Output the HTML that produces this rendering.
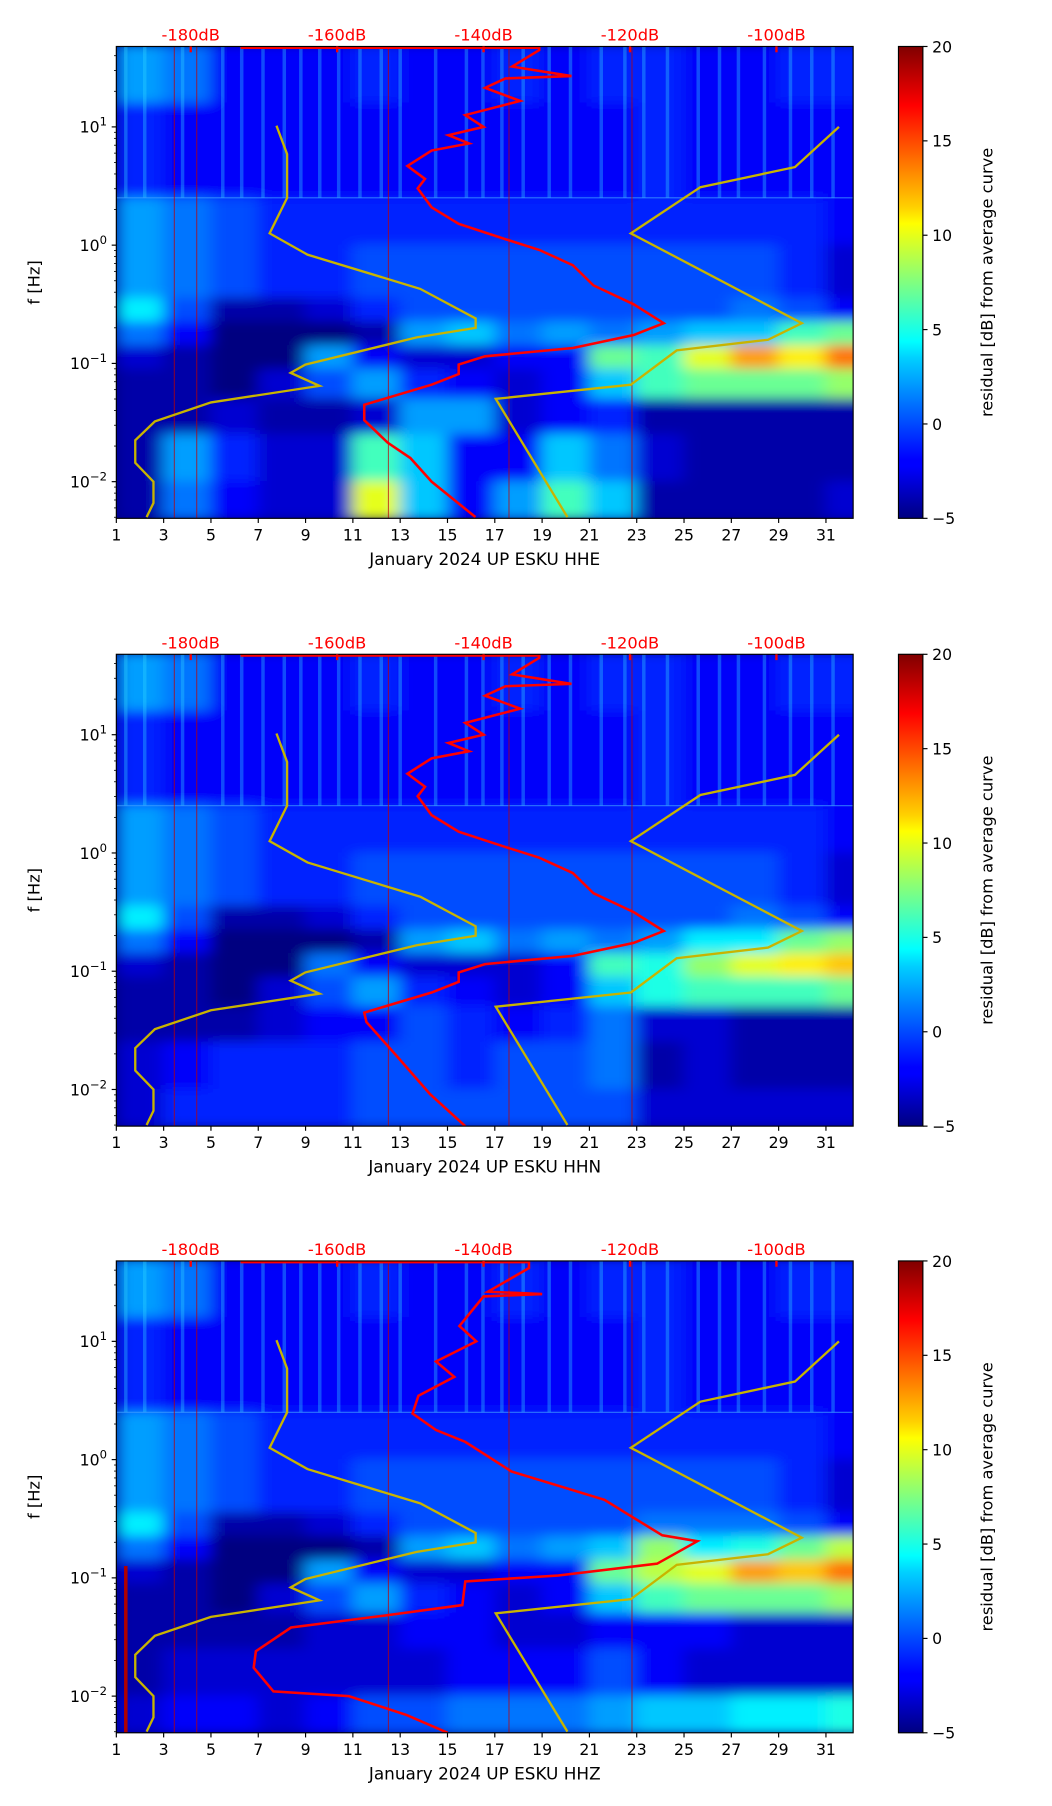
<!DOCTYPE html>
<html><head><meta charset="utf-8"><style>
html,body{margin:0;padding:0;background:#fff;}
svg{display:block;font-family:"DejaVu Sans","Liberation Sans",sans-serif;}
</style></head><body>
<svg id="fig" width="1052" height="1806" viewBox="0 0 905 1554" xmlns="http://www.w3.org/2000/svg">
<defs>
<linearGradient id="jetg" x1="0" y1="1" x2="0" y2="0">
<stop offset="0" stop-color="#000080"/><stop offset="0.11" stop-color="#0000ff"/><stop offset="0.125" stop-color="#0000ff"/>
<stop offset="0.34" stop-color="#00d0ff"/><stop offset="0.375" stop-color="#00ffff"/><stop offset="0.5" stop-color="#80ff80"/>
<stop offset="0.625" stop-color="#ffff00"/><stop offset="0.66" stop-color="#ffd000"/><stop offset="0.875" stop-color="#ff0000"/><stop offset="1" stop-color="#800000"/>
</linearGradient>
<filter id="blur" x="-5%" y="-5%" width="110%" height="110%"><feGaussianBlur stdDeviation="7 5"/></filter>
</defs>
</svg>
<script>
// ===== data =====
const dayTicks = [1,3,5,7,9,11,13,15,17,19,21,23,25,27,29,31];
const dbTicks = [-180,-160,-140,-120,-100];
const cbTicks = [-5,0,5,10,15,20];
const yDecades = [1,0,-1,-2];
const channels = ["HHE","HHN","HHZ"];
const rowEdges = [1.7,1.2,0.4,0.0,-0.45,-0.65,-0.85,-1.05,-1.3,-1.6,-2.0,-2.32];
const colDays = [1,3,5,7,9,11,13,15,17,19,21,23,25,27,29,31,33];
const heat1 = [
[2,1,-2,-2,-2,-1,-2,-2,-1,-2,-1,-1,-2,-2,-1,-1],
[-1,-2,-2,-2,-2,-2,-2,-2,-2,-2,-2,-1,-2,-2,-2,-2],
[2,1,0,-1,-1,-1,-1,-1,-1,-1,-1,-1,-1,-1,-1,-2],
[2,1,0,-1,-1,0,0,0,0,0,0,0,0,0,-1,-3],
[4,0,-4,-4,-3,-1,0,0,0,0,0,0,0,1,0,-2],
[1,-2,-5,-5,-5,-4,2,3,1,2,1,2,3,3,6,7],
[-3,-4,-5,-5,2,-2,-3,-3,-2,-2,7,6,10,13,11,14],
[-4,-4,-5,-3,0,2,-1,-2,-3,-2,3,6,7,7,7,8],
[-4,-4,-3,-4,-4,-3,2,2,-3,-2,-1,-4,-4,-4,-4,-4],
[-4,2,-1,-3,-3,6,3,-2,-2,3,1,-3,-4,-4,-4,-4],
[-4,1,-2,-3,-3,10,3,-2,2,6,3,-4,-4,-4,-4,-3]];
const heat2 = [
[2,1,-2,-2,-2,-1,-2,-2,-1,-2,-1,-1,-2,-2,-1,-1],
[-1,-2,-2,-2,-2,-2,-2,-2,-2,-2,-2,-1,-2,-2,-2,-2],
[2,1,0,-1,-1,-1,-1,-1,-1,-1,-1,-1,-1,-1,-1,-2],
[2,1,0,-1,-1,0,0,0,0,0,0,0,0,0,-1,-3],
[4,0,-4,-4,-3,-1,0,0,0,0,0,0,0,1,0,-2],
[1,-2,-5,-5,-5,-4,2,3,1,2,1,2,4,4,7,8],
[-3,-4,-5,-5,1,-2,-3,-3,-3,-2,6,5,8,10,11,12],
[-4,-4,-5,-3,0,2,-1,-2,-3,-2,3,5,6,6,6,7],
[-4,-4,-4,-3,-2,-2,0,-1,-2,-1,1,-3,-3,-4,-4,-4],
[-3,-2,-1,-1,-1,0,0,-1,0,0,1,-4,-3,-4,-4,-4],
[-3,-1,-1,-1,-1,0,0,0,0,0,0,-3,-3,-3,-3,-3]];
const heat3 = [
[2,1,-2,-2,-2,-1,-2,-2,-1,-2,-1,-1,-2,-2,-1,-1],
[-1,-2,-2,-2,-2,-2,-2,-2,-2,-2,-2,-1,-2,-2,-2,-2],
[2,1,0,-1,-1,-1,-1,-1,-1,-1,-1,-1,-1,-1,-1,-2],
[2,1,0,-1,-1,0,0,0,0,0,0,0,0,0,-1,-3],
[4,0,-4,-4,-3,-1,0,0,0,0,0,1,1,1,0,-2],
[1,-2,-5,-5,-5,-4,2,3,1,2,3,8,4,5,7,9],
[-3,-4,-5,-5,2,-2,-3,-3,-2,-2,7,9,10,13,12,14],
[-4,-4,-5,-3,0,2,-1,-2,-3,-2,3,6,7,7,7,8],
[-4,-4,-4,-4,-3,-3,-2,-2,-3,-3,-2,-2,-2,-3,-3,-3],
[-4,-3,-3,-3,-3,-3,-3,-2,-2,-2,0,-2,-3,-3,-3,-3],
[-3,-2,-2,-3,-2,0,0,1,1,1,2,3,3,4,4,5]];
const streakDays = [1.4,2.2,3.8,5.5,6.3,7.2,8.1,8.8,9.6,10.4,11.3,12.2,13,14.5,15.8,16.5,17.3,18.2,19.3,20.2,21.5,22.5,23.3,24.3,25.6,26.5,27.3,28.4,29.5,30.4,31.3];
const redVDays = [3.45,4.4,12.5,17.6,22.8];
const ylDays = [7.77,8.22,8.22,7.48,9.08,13.85,16.19,16.19,13.70,8.99,8.37,9.59,5.0,2.63,1.80,1.80,2.57,2.57,2.28];
const ylLf = [1.01,0.77,0.40,0.10,-0.08,-0.37,-0.62,-0.70,-0.78,-1.01,-1.08,-1.19,-1.33,-1.49,-1.65,-1.84,-2.0,-2.18,-2.30];
const yrDays = [31.55,29.69,25.69,22.75,29.98,28.55,24.69,22.75,17.04,20.07];
const yrLf = [1.0,0.66,0.49,0.10,-0.66,-0.80,-0.89,-1.18,-1.30,-2.30];
const red1Db = [-173.2,-132.4,-132.4,-136.1,-128,-137,-139.8,-135,-142.5,-140,-144.8,-142,-147.1,-150.4,-148,-149.0,-147.1,-143.4,-137.0,-132.4,-127.8,-125.0,-119.5,-115.4,-119.5,-127.8,-139.8,-143.4,-143.4,-147.1,-156.3,-156.3,-153.1,-150.0,-147.1,-141.1];
const red1Lf = [1.67,1.67,1.65,1.51,1.43,1.41,1.33,1.22,1.10,1.0,0.93,0.86,0.80,0.67,0.56,0.48,0.32,0.18,0.05,-0.04,-0.17,-0.34,-0.50,-0.66,-0.76,-0.87,-0.94,-1.01,-1.09,-1.18,-1.35,-1.48,-1.67,-1.80,-2.0,-2.30];
const red2Db = [-173.2,-132.4,-132.4,-136.1,-128,-137,-139.8,-135,-142.5,-140,-144.8,-142,-147.1,-150.4,-148,-149.0,-147.1,-143.4,-137.0,-132.4,-127.8,-125.0,-119.5,-115.4,-119.5,-127.8,-139.8,-143.4,-143.4,-147.1,-156.3,-156.0,-152.1,-147.3,-142.5];
const red2Lf = [1.67,1.67,1.65,1.51,1.43,1.41,1.33,1.22,1.10,1.0,0.93,0.86,0.80,0.67,0.56,0.48,0.32,0.18,0.05,-0.04,-0.17,-0.34,-0.50,-0.66,-0.76,-0.87,-0.94,-1.01,-1.09,-1.18,-1.35,-1.43,-1.70,-2.04,-2.31];
const red3Db = [-173.2,-133.8,-133.8,-139.4,-132,-140,-143.3,-141,-146.5,-144,-148.9,-149.7,-146.5,-142.5,-136.2,-123.5,-115.6,-110.8,-116.3,-129.8,-142.5,-142.9,-153.7,-166.3,-171.1,-171.4,-168.7,-158.4,-150.5,-144.9];
const red3Lf = [1.67,1.67,1.62,1.42,1.40,1.38,1.13,1.0,0.83,0.7,0.54,0.39,0.25,0.15,-0.10,-0.34,-0.64,-0.69,-0.88,-0.98,-1.03,-1.23,-1.32,-1.42,-1.62,-1.76,-1.96,-2.0,-2.16,-2.31];
const heats = [heat1,heat2,heat3];
const reds = [[red1Db,red1Lf],[red2Db,red2Lf],[red3Db,red3Lf]];

// ===== layout =====
const NS="http://www.w3.org/2000/svg";
const svg=document.getElementById('fig');
const L=100,R=734,H=406,tops=[40,563,1085];
const DMIN=1,DMAX=32.15,LFMAX=1.68,LFMIN=-2.31;
const xDay=d=>L+(d-DMIN)/(DMAX-DMIN)*(R-L);
const xDb=db=>164+(db+180)*6.3;
function yLf(lf,top){return top+(LFMAX-lf)/(LFMAX-LFMIN)*H;}
function jet(v){const t=Math.max(0,Math.min(1,(v+5)/25));const c=x=>Math.round(255*Math.max(0,Math.min(1,x)));
 return `rgb(${c(1.5-Math.abs(4*t-3))},${c(1.5-Math.abs(4*t-2))},${c(1.5-Math.abs(4*t-1))})`;}
function el(tag,attrs,parent){const e=document.createElementNS(NS,tag);for(const k in attrs)e.setAttribute(k,attrs[k]);(parent||svg).appendChild(e);return e;}
function txt(s,attrs,parent){const e=el('text',attrs,parent);e.textContent=s;return e;}

tops.forEach((top,p)=>{
 const g=el('g',{});
 
 
 const cid='clip'+p;
 const cp=el('clipPath',{id:cid},g);el('rect',{x:L,y:top,width:R-L,height:H},cp);
 const plot=el('g',{'clip-path':`url(#${cid})`},g);
 
 
 el('rect',{x:L,y:top,width:R-L,height:H,fill:'#000080'},plot);
 const hg=el('g',{filter:'url(#blur)'},plot);
 const heat=heats[p];
 heat.forEach((row,ri)=>{row.forEach((v,ci)=>{
  const x0=xDay(colDays[ci]),x1=xDay(colDays[ci+1]);
  const y0=yLf(rowEdges[ri],top),y1=yLf(rowEdges[ri+1],top);
  const r=el('rect',{x:x0-0.5,y:y0-0.5,width:x1-x0+1,height:y1-y0+1,fill:jet(v)},hg);
  
  
 });});
 streakDays.forEach(d=>{
  const s=el('rect',{x:xDay(d)-1.5,y:top,width:3,height:yLf(0.4,top)-top,fill:'#30d8ff',opacity:0.35},plot);
  
  
 });
 el('line',{x1:L,x2:R,y1:yLf(0.4,top),y2:yLf(0.4,top),stroke:'#40a0ff','stroke-width':1,opacity:0.7},plot);
 if(p===2){el('line',{x1:xDay(1.4),x2:xDay(1.4),y1:yLf(-0.9,top),y2:top+H,stroke:'#b00000','stroke-width':3},plot);}
 redVDays.forEach(d=>{
  const v=el('line',{x1:xDay(d),x2:xDay(d),y1:top,y2:top+H,stroke:'#c00000','stroke-width':0.8,opacity:0.8},plot);
  
  
 });
 const yl=el('polyline',{points:ylDays.map((d,i)=>xDay(d)+','+yLf(ylLf[i],top)).join(' '),fill:'none',stroke:'#c8b400','stroke-width':2},plot);
 
 
 const yr=el('polyline',{points:yrDays.map((d,i)=>xDay(d)+','+yLf(yrLf[i],top)).join(' '),fill:'none',stroke:'#c8b400','stroke-width':2},plot);
 
 
 const [rd,rl]=reds[p];
 const rc=el('polyline',{points:rd.map((db,i)=>xDb(db)+','+yLf(rl[i],top)).join(' '),fill:'none',stroke:'#ff0000','stroke-width':2.2},plot);
 
 
 el('rect',{x:L,y:top,width:R-L,height:H,fill:'none',stroke:'#000','stroke-width':1},g);
 dayTicks.forEach(d=>{const x=xDay(d);el('line',{x1:x,x2:x,y1:top+H,y2:top+H+4,stroke:'#000'},g);
  const t=txt(String(d),{x:x,y:top+H+19,'text-anchor':'middle','font-size':13.5},g);
  });
 const xl=txt('January 2024 UP ESKU  '+channels[p],{x:417,y:top+H+40,'text-anchor':'middle','font-size':14.5},g);
 
 dbTicks.forEach(db=>{const x=xDb(db);el('line',{x1:x,x2:x,y1:top,y2:top+5,stroke:'#ff0000','stroke-width':2},g);
  const t=txt(db+'dB',{x:x,y:top-5,'text-anchor':'middle','font-size':14,fill:'#ff0000'},g);
  });
 yDecades.forEach(e=>{const y=yLf(e,top);el('line',{x1:L-4,x2:L,y1:y,y2:y,stroke:'#000'},g);
  const t=el('text',{x:L-8,y:y+5,'text-anchor':'end','font-size':13.5},g);
  
  t.appendChild(document.createTextNode('10'));const sp=el('tspan',{dy:-6,'font-size':10},t);sp.textContent=String(e===0?0:(e<0?'\u2212'+(-e):e));
  for(let k=2;k<10;k++){const lf=e+Math.log10(k);if(lf<LFMAX){const yy=yLf(lf,top);el('line',{x1:L-2,x2:L,y1:yy,y2:yy,stroke:'#000','stroke-width':0.7},g);}}
  if(e===-2){for(let k=5;k<10;k++){const yy=yLf(-3+Math.log10(k),top);if(yy<top+H)el('line',{x1:L-2,x2:L,y1:yy,y2:yy,stroke:'#000','stroke-width':0.7},g);}}
 });
 const ylab=txt('f [Hz]',{x:0,y:0,'text-anchor':'middle','font-size':14,transform:`translate(34,${top+H/2}) rotate(-90)`},g);
 
 const cb=el('rect',{x:773,y:top,width:21,height:H,fill:'url(#jetg)',stroke:'#000','stroke-width':1},g);
 
 cbTicks.forEach(v=>{const y=top+H-(v+5)/25*H;el('line',{x1:794,x2:798,y1:y,y2:y,stroke:'#000'},g);
  const t=txt(v<0?'\u2212'+(-v):String(v),{x:802,y:y+5,'font-size':13.5},g);
  });
 const cl=txt('residual [dB] from average curve',{x:0,y:0,'text-anchor':'middle','font-size':14,transform:`translate(854,${top+H/2}) rotate(-90)`},g);
 
});
</script>
</body></html>
